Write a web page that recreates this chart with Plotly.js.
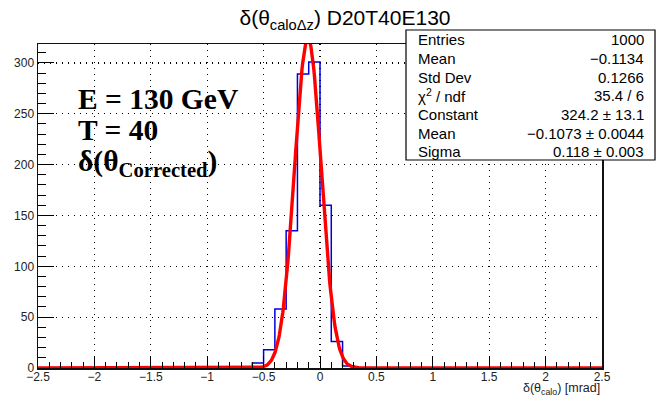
<!DOCTYPE html>
<html>
<head>
<meta charset="utf-8">
<script src="https://cdn.plot.ly/plotly-3.0.1.min.js"></script>
<style>html,body{margin:0;padding:0;background:#fff;}#plot{width:656px;height:396px;}</style>
</head>
<body>
<div id="plot"></div>
<script>
// Histogram: 50 bins of width 0.1 from -2.5 to 2.5
var binMin = -2.5;
var binWidth = 0.1;
var nBins = 50;
// non-empty bins (bin low edge -> count)
var filledLow = [-0.6, -0.5, -0.4, -0.3, -0.2, -0.1, 0.0, 0.1, 0.2];
var filledCounts = [5, 18, 58, 135, 289, 301, 160, 26, 2];

// Gaussian fit parameters (from stats box)
var fitConstant = 324.2;
var fitMean = -0.1073;
var fitSigma = 0.118;

// Stats box
var statLabels = ['Entries', 'Mean', 'Std Dev', '\u03c7<sup>2</sup> / ndf', 'Constant', 'Mean', 'Sigma'];
var statValues = ['1000', '\u22120.1134', '0.1266', '35.4 / 6', '324.2 \u00b1 13.1', '\u22120.1073 \u00b1 0.0044', '0.118 \u00b1 0.003'];

var titleText = '\u03b4(\u03b8<sub>calo\u0394z</sub>) D20T40E130';
var xTitleText = '\u03b4(\u03b8<sub>calo</sub>) [mrad]';
var infoLines = ['E = 130 GeV', 'T = 40', '\u03b4(\u03b8<sub>Corrected</sub>)'];

var counts = [];
for (var c = 0; c < nBins; c++) counts.push(0);
for (var k = 0; k < filledLow.length; k++) {
  var idx = Math.round((filledLow[k] - binMin) / binWidth);
  counts[idx] = filledCounts[k];
}
var hx = [], hy = [];
for (var i = 0; i < nBins; i++) { hx.push(binMin + i * binWidth); hy.push(counts[i]); }
hx.push(binMin + nBins * binWidth); hy.push(counts[nBins - 1]);

var fx = [], fy = [];
var nPts = 1000;
for (var j = 0; j <= nPts; j++) {
  var xv = -2.5 + 5 * j / nPts;
  fx.push(xv);
  fy.push(fitConstant * Math.exp(-0.5 * Math.pow((xv - fitMean) / fitSigma, 2)));
}

var W = 656, H = 396;
var L = 38, R = 602, T = 44, B = 368;
function px(x) { return (x - L) / (R - L); }
function py(y) { return (B - y) / (B - T); }

var font = '"Liberation Sans", Arial, Helvetica, sans-serif';
var serif = '"Liberation Serif", "Times New Roman", serif';

var traces = [
  {x: hx, y: hy, type: 'scatter', mode: 'lines', line: {shape: 'hv', color: '#0000dd', width: 1.5}, hoverinfo: 'skip'},
  {x: fx, y: fy, type: 'scatter', mode: 'lines', line: {color: '#ff0000', width: 3.4}, hoverinfo: 'skip'}
];

var annotations = [];
var rowY = [40, 58.5, 77, 95.5, 114.5, 133, 151.5];
for (var r = 0; r < statLabels.length; r++) {
  annotations.push({xref: 'paper', yref: 'paper', x: px(416), y: py(rowY[r]), xanchor: 'left', yanchor: 'middle',
    text: statLabels[r], showarrow: false, font: {family: font, size: 15, color: '#000'}});
  annotations.push({xref: 'paper', yref: 'paper', x: px(646), y: py(rowY[r]), xanchor: 'right', yanchor: 'middle',
    text: statValues[r], showarrow: false, font: {family: font, size: 15, color: '#000'}});
}
var infoY = [99, 130, 163];
for (var q = 0; q < infoLines.length; q++) {
  annotations.push({xref: 'paper', yref: 'paper', x: px(76), y: py(infoY[q]), xanchor: 'left', yanchor: 'middle',
    text: '<b>' + infoLines[q] + '</b>', showarrow: false, font: {family: serif, size: 29.5, color: '#000'}});
}
annotations.push({xref: 'paper', yref: 'paper', x: 1, y: py(389), xanchor: 'right', yanchor: 'middle',
  text: xTitleText, showarrow: false, font: {family: font, size: 12.5, color: '#222'}});

var layout = {
  width: W, height: H,
  margin: {l: L, r: W - R, t: T, b: H - B, pad: 0},
  paper_bgcolor: '#fff', plot_bgcolor: '#fff',
  showlegend: false,
  title: {text: titleText, xref: 'container', yref: 'container', x: 345 / W, y: 1 - 18 / H,
    xanchor: 'center', yanchor: 'middle', font: {family: font, size: 21, color: '#000'}},
  xaxis: {range: [-2.5, 2.5], dtick: 0.5, tick0: -2.5, ticks: 'inside', ticklen: 12, tickwidth: 1, tickcolor: '#000',
    minor: {dtick: 0.1, ticks: 'inside', ticklen: 6, tickcolor: '#000', showgrid: false},
    showgrid: true, gridcolor: '#000', griddash: '1px,5px', gridwidth: 1.2,
    zeroline: false, showline: true, linecolor: '#111', linewidth: 1.5, mirror: true,
    ticklabelstandoff: -3,
    tickfont: {family: font, size: 12, color: '#222'}, fixedrange: true},
  yaxis: {range: [0, 318.6], dtick: 50, tick0: 0, ticks: 'inside', ticklen: 16, tickwidth: 1, tickcolor: '#000',
    minor: {dtick: 10, ticks: 'inside', ticklen: 8, tickcolor: '#000', showgrid: false},
    showgrid: true, gridcolor: '#000', griddash: '1px,5px', gridwidth: 1.2,
    zeroline: false, showline: true, linecolor: '#111', linewidth: 1.5, mirror: true,
    tickfont: {family: font, size: 12, color: '#222'}, fixedrange: true},
  shapes: [
    {type: 'rect', xref: 'paper', yref: 'paper', x0: px(406), x1: px(655), y0: py(160), y1: py(30),
      fillcolor: '#fff', line: {color: '#000', width: 1.2}, layer: 'above'}
  ],
  annotations: annotations
};

Plotly.newPlot('plot', traces, layout, {displayModeBar: false, staticPlot: true});
</script>
</body>
</html>
